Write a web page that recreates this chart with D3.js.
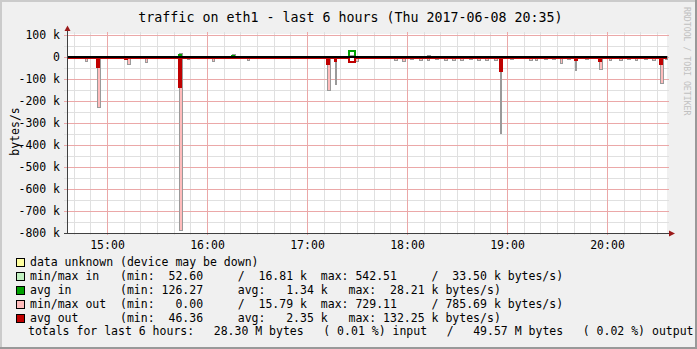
<!DOCTYPE html>
<html>
<head>
<meta charset="utf-8">
<title>traffic on eth1</title>
<script src="https://cdn.jsdelivr.net/npm/d3@7"></script>
<style>
  body { margin: 0; background: #f0f0f0; }
  svg { display: block; }
  text { font-family: "DejaVu Sans Mono", monospace; white-space: pre; }
</style>
</head>
<body>
<script>
// values in k bytes/s, "out" is drawn below zero
const startTime = "14:36", endTime = "20:36";
const yTickValues = [100, 0, -100, -200, -300, -400, -500, -600, -700, -800];
const yTickLabels = ["100 k", "0", "-100 k", "-200 k", "-300 k", "-400 k", "-500 k", "-600 k", "-700 k", "-800 k"];

// min/max out spikes: start, length in minutes, max
const outBandTimes = ["14:39","14:47","14:54","15:12","15:23","15:32","15:43","15:48","16:03","16:24","17:00","17:12","17:17","17:29",
  "17:52","17:57","18:02","18:07","18:12","18:17","18:22","18:27","18:32","18:37","18:42","18:47","18:52",
  "18:56","19:02","19:13","19:17","19:22","19:27","19:32","19:36","19:41","19:47","19:55",
  "20:01","20:07","20:12","20:17","20:22","20:27","20:32","20:35"];
const outBandMinutes = [1,1.2,1.8,1.5,1,1,1.8,1,1,1,1.5,1.5,0.6,2,
  1.5,1.5,1.5,1.5,1.5,1.5,1.5,1.5,1.5,1.5,1.5,1.5,1.5,
  0.6,1.5,1.5,1.5,1.5,1.5,1.5,1.5,0.6,1.5,2,
  1.5,1.5,1.5,1.5,1.5,1.5,2,1.2];
const outBandMax = [4,17,225,33,21,6,785,8,17,15,6,150,125,16,
  12,16,10,14,12,10,15,12,14,10,15,12,14,
  345,10,12,12,10,10,27,10,60,8,55,
  14,12,10,14,10,12,120,10];

// min/max in spikes
const inBandTimes = ["14:39","14:51","14:55","14:59","15:08","15:13","15:43","15:57","16:15","16:40","16:50","17:00","17:25","17:48","18:12","18:15","19:36","19:53","20:35"];
const inBandMinutes = [2,3,2,3,3,2,1.8,2,2,3,2,1.5,3,3,2,2,3,2,1.2];
const inBandMax = [5,4,5,4,5,6,20,3,12,3,4,5,10,4,7,5,6,3,6];

// averages: level between spikes, then spikes
const avgOutBase = 2.35;
const avgOutTimes = ["14:54","15:11","15:43","17:12","17:17","17:25","17:40","18:56","19:41","19:55","20:32"];
const avgOutMinutes = [1.2,1,1.2,1.2,0.6,3.5,4,1.2,1,1.2,1.2];
const avgOutValues = [45,8,135,30,20,24,5,64,15,20,30];

const avgInBase = 1.34;
const avgInTimes = ["15:43","16:15","17:25"];
const avgInMinutes = [1.2,1,3.5];
const avgInValues = [8,4,28];

const title = "traffic on eth1 - last 6 hours (Thu 2017-06-08 20:35)";
const legendLines = [
  "data unknown (device may be down)",
  "min/max in   (min:  52.60     /  16.81 k  max: 542.51     /  33.50 k bytes/s)",
  "avg in       (min: 126.27     avg:   1.34 k   max:  28.21 k bytes/s)",
  "min/max out  (min:   0.00     /  15.79 k  max: 729.11     / 785.69 k bytes/s)",
  "avg out      (min:  46.36     avg:   2.35 k   max: 132.25 k bytes/s)"
];
const totalsItems = ["totals for last 6 hours:", "28.30 M bytes", "( 0.01 %) input", "/", "49.57 M bytes", "( 0.02 %) output"];

const legendColors = ["#ffffa0", "#c0f0c0", "#00a000", "#ffbcbc", "#c00000"];

const width = 697, height = 349;
const parse = d3.timeParse("%H:%M");

const x = d3.scaleTime()
  .domain([parse(startTime), parse(endTime)])
  .range([67, 667]);
const y = d3.scaleLinear()
  .domain([-800, 100])
  .range([233, 35]);

const crisp = v => Math.round(v) + 0.5;

const svg = d3.select("body").append("svg")
  .attr("width", width)
  .attr("height", height);

// background + shaded border
svg.append("rect").attr("width", width).attr("height", height).attr("fill", "#f0f0f0");
svg.append("rect").attr("width", width).attr("height", 2).attr("fill", "#cbcbcb");
svg.append("rect").attr("width", 2).attr("height", height).attr("fill", "#cbcbcb");
svg.append("rect").attr("y", height - 2).attr("width", width).attr("height", 2).attr("fill", "#999999");
svg.append("rect").attr("x", width - 2).attr("width", 2).attr("height", height).attr("fill", "#999999");

// canvas
svg.append("rect")
  .attr("x", 67).attr("y", 34)
  .attr("width", 600).attr("height", 199)
  .attr("fill", "#ffffff");

// grid
const grid = svg.append("g").attr("shape-rendering", "crispEdges");
const majorX = x.ticks(d3.timeHour.every(1));
const minorX = x.ticks(d3.timeMinute.every(10)).filter(d => d.getMinutes() !== 0);
const minorY = y.ticks(18).filter(d => d % 100 !== 0);

grid.selectAll("line.vminor").data(minorX).join("line")
  .attr("class", "vminor")
  .attr("x1", d => crisp(x(d))).attr("x2", d => crisp(x(d)))
  .attr("y1", 32).attr("y2", 235)
  .attr("stroke", "#e0e0e0");
grid.selectAll("line.hminor").data(minorY).join("line")
  .attr("class", "hminor")
  .attr("x1", 64).attr("x2", 669)
  .attr("y1", d => crisp(y(d))).attr("y2", d => crisp(y(d)))
  .attr("stroke", "#e0e0e0");
grid.selectAll("line.vmajor").data(majorX).join("line")
  .attr("class", "vmajor")
  .attr("x1", d => crisp(x(d))).attr("x2", d => crisp(x(d)))
  .attr("y1", 32).attr("y2", 235)
  .attr("stroke", "#eba8a8");
grid.selectAll("line.hmajor").data(yTickValues).join("line")
  .attr("class", "hmajor")
  .attr("x1", 64).attr("x2", 669)
  .attr("y1", d => crisp(y(d))).attr("y2", d => crisp(y(d)))
  .attr("stroke", "#eba8a8");

// bars for min/max bands
function bands(times, minutes, maxes, sign, fill) {
  const rows = times.map((t, i) => ({ t: parse(t), m: minutes[i], v: maxes[i] }));
  svg.append("g").attr("shape-rendering", "crispEdges")
    .selectAll("rect").data(rows).join("rect")
    .attr("x", d => Math.round(x(d.t)) + 0.5)
    .attr("width", d => Math.max(1, Math.round(x(d3.timeSecond.offset(d.t, d.m * 60)) - x(d.t))))
    .attr("y", d => sign > 0 ? Math.round(y(d.v)) + 0.5 : Math.round(y(0)) + 0.5)
    .attr("height", d => Math.max(1, Math.round(Math.abs(y(d.v) - y(0)))))
    .attr("fill", fill)
    .attr("stroke", "#9a9a9a")
    .attr("stroke-width", 1);
}

// average line: flat level with the listed spikes
function avgLine(base, times, minutes, vals, sign, color) {
  const pts = [[x.range()[0], base]];
  times.forEach((t, i) => {
    const t0 = parse(t);
    const t1 = d3.timeSecond.offset(t0, minutes[i] * 60);
    pts.push([x(t0), base], [x(t0), vals[i]], [x(t1), vals[i]], [x(t1), base]);
  });
  pts.push([x.range()[1], base]);
  const line = d3.line()
    .x(d => Math.round(d[0]))
    .y(d => Math.round(y(sign * d[1])));
  svg.append("path")
    .datum(pts)
    .attr("d", line)
    .attr("fill", "none")
    .attr("stroke", color)
    .attr("stroke-width", 2)
    .attr("stroke-linejoin", "miter");
}

bands(inBandTimes, inBandMinutes, inBandMax, 1, "#c0f0c0");
avgLine(avgInBase, avgInTimes, avgInMinutes, avgInValues, 1, "#00a000");
bands(outBandTimes, outBandMinutes, outBandMax.map(v => -v), -1, "#ffbcbc");
avgLine(avgOutBase, avgOutTimes, avgOutMinutes, avgOutValues, -1, "#c00000");

// zero line
svg.append("line")
  .attr("x1", 67).attr("x2", 667)
  .attr("y1", Math.round(y(0))).attr("y2", Math.round(y(0)))
  .attr("stroke", "#000").attr("stroke-width", 2)
  .attr("shape-rendering", "crispEdges");

// axes with arrows
svg.append("line")
  .attr("x1", 67.5).attr("x2", 67.5).attr("y1", 234).attr("y2", 30)
  .attr("stroke", "#404040").attr("shape-rendering", "crispEdges");
svg.append("line")
  .attr("x1", 64).attr("x2", 670).attr("y1", 233.5).attr("y2", 233.5)
  .attr("stroke", "#404040").attr("shape-rendering", "crispEdges");
svg.append("path").attr("d", "M64.5,31 L70.5,31 L67.5,25.5 Z").attr("fill", "#9b1a1a");
svg.append("path").attr("d", "M669,230.5 L669,236.5 L675,233.5 Z").attr("fill", "#9b1a1a");

// tick labels
svg.append("g").selectAll("text").data(yTickValues).join("text")
  .attr("x", 60)
  .attr("y", d => y(d) + 4)
  .attr("text-anchor", "end")
  .attr("font-size", "11.5px")
  .attr("fill", "#000")
  .text((d, i) => yTickLabels[i]);

svg.append("g").selectAll("text").data(majorX).join("text")
  .attr("x", d => x(d) + 0.5)
  .attr("y", 248.5)
  .attr("text-anchor", "middle")
  .attr("font-size", "11.5px")
  .attr("fill", "#000")
  .text(d3.timeFormat("%H:%M"));

// title and axis title
svg.append("text")
  .attr("x", 350.5).attr("y", 21.5)
  .attr("text-anchor", "middle")
  .attr("font-size", "13.3px")
  .attr("fill", "#000")
  .text(title);

svg.append("text")
  .attr("transform", "translate(18.5,131.5) rotate(-90)")
  .attr("text-anchor", "middle")
  .attr("font-size", "11.5px")
  .attr("fill", "#000")
  .text("bytes/s");

svg.append("text")
  .attr("transform", "translate(684,7) rotate(90)")
  .attr("font-size", "8.2px")
  .attr("fill", "#c0c0c0")
  .text("RRDTOOL / TOBI OETIKER");

// legend
const legend = svg.append("g");
legendLines.forEach((s, i) => {
  const cy = 261.5 + i * 14;
  legend.append("rect")
    .attr("x", 16.5).attr("y", Math.round(cy - 4) + 0.5)
    .attr("width", 8).attr("height", 8)
    .attr("fill", legendColors[i])
    .attr("stroke", "#000")
    .attr("shape-rendering", "crispEdges");
  legend.append("text")
    .attr("x", 30).attr("y", cy + 4)
    .attr("font-size", "11.5px")
    .attr("fill", "#000")
    .text(s);
});

// totals line, justified across the width
const totals = totalsItems.map(s => legend.append("text")
  .attr("y", 335)
  .attr("font-size", "11.5px")
  .attr("fill", "#000")
  .text(s));
const widths = totals.map(t => t.node().getComputedTextLength());
const left = 28, right = 693.5;
const gap = (right - left - d3.sum(widths)) / (totals.length - 1);
let cx = left;
totals.forEach((t, i) => {
  t.attr("x", cx);
  cx += widths[i] + gap;
});
</script>
</body>
</html>
